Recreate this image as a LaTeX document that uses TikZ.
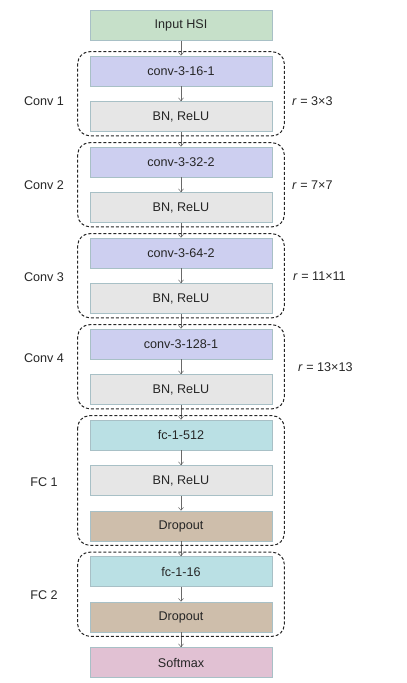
\documentclass[tikz,border=0pt]{standalone}
\usepackage{fontspec}
\setmainfont{Liberation Sans}
\usetikzlibrary{calc}
\usetikzlibrary{arrows.meta}
\definecolor{inputGreen}{RGB}{198,224,201}
\definecolor{convBlue}{RGB}{205,207,240}
\definecolor{bnGray}{RGB}{230,230,230}
\definecolor{fcCyan}{RGB}{186,224,228}
\definecolor{dropTan}{RGB}{206,190,171}
\definecolor{softPink}{RGB}{225,193,211}
\definecolor{boxBorder}{RGB}{168,192,198}
\definecolor{arrowGray}{RGB}{105,105,105}
\tikzset{
  layerNode/.style={%
    rectangle, minimum width=182pt, minimum height=30pt, inner sep=0pt,
    draw=boxBorder, line width=0.6pt, text=black!85,
    font=\fontsize{12.6}{14}\selectfont,
  },
  groupBox/.style={%
    draw=black!85, line width=1pt, dash pattern=on 3pt off 2pt,
    rounded corners=12pt,
  },
  flowArrow/.style={%
    draw=arrowGray, line width=0.5pt,
    -{Straight Barb[length=3pt,width=5pt]},
  },
  sideLabel/.style={%
    font=\fontsize{12.6}{14}\selectfont, text=black!85, inner sep=0pt,
  }
}

\begin{document}
\begin{tikzpicture}[x=1pt,y=-1pt]
        \useasboundingbox (0,0) rectangle (407,683);
        % layers
        \foreach \i/\txt/\col in {0/Input HSI/inputGreen, 1/conv-3-16-1/convBlue,
          2/{BN, ReLU}/bnGray, 3/conv-3-32-2/convBlue, 4/{BN, ReLU}/bnGray,
          5/conv-3-64-2/convBlue, 6/{BN, ReLU}/bnGray, 7/conv-3-128-1/convBlue,
          8/{BN, ReLU}/bnGray, 9/fc-1-512/fcCyan, 10/{BN, ReLU}/bnGray,
          11/Dropout/dropTan, 12/fc-1-16/fcCyan, 13/Dropout/dropTan,
          14/Softmax/softPink}
        {
          \node[layerNode,fill=\col] (node\i) at (181,{25.5+45.5*\i}) {\txt};
        }
        % connections
        \foreach \i in {0,...,13}
        {
          \pgfmathtruncatemacro{\j}{\i+1}
          \draw[flowArrow] (node\i.south) -- (node\j.north);
        }
        % groups
        \foreach \a/\b in {1/2,3/4,5/6,7/8,9/11,12/13}
        {
          \draw[groupBox] ($(node\a.north west)+(-12,-4)$) rectangle ($(node\b.south east)+(12,4)$);
        }
        % group names
        \foreach \n/\txt/\y in {conv1/Conv 1/101, conv2/Conv 2/185, conv3/Conv 3/277,
          conv4/Conv 4/358, fc1/FC 1/482, fc2/FC 2/595}
        {
          \node[sideLabel] (label\n) at (44,\y) {\txt};
        }
        % receptive fields
        \foreach \n/\txt/\x/\y in {conv1/3×3/292/101, conv2/7×7/292/185,
          conv3/11×11/293/276, conv4/13×13/298/367}
        {
          \node[sideLabel,anchor=west] (field\n) at (\x,\y) {\textit{r} = \txt};
        }
      \end{tikzpicture}
\end{document}
